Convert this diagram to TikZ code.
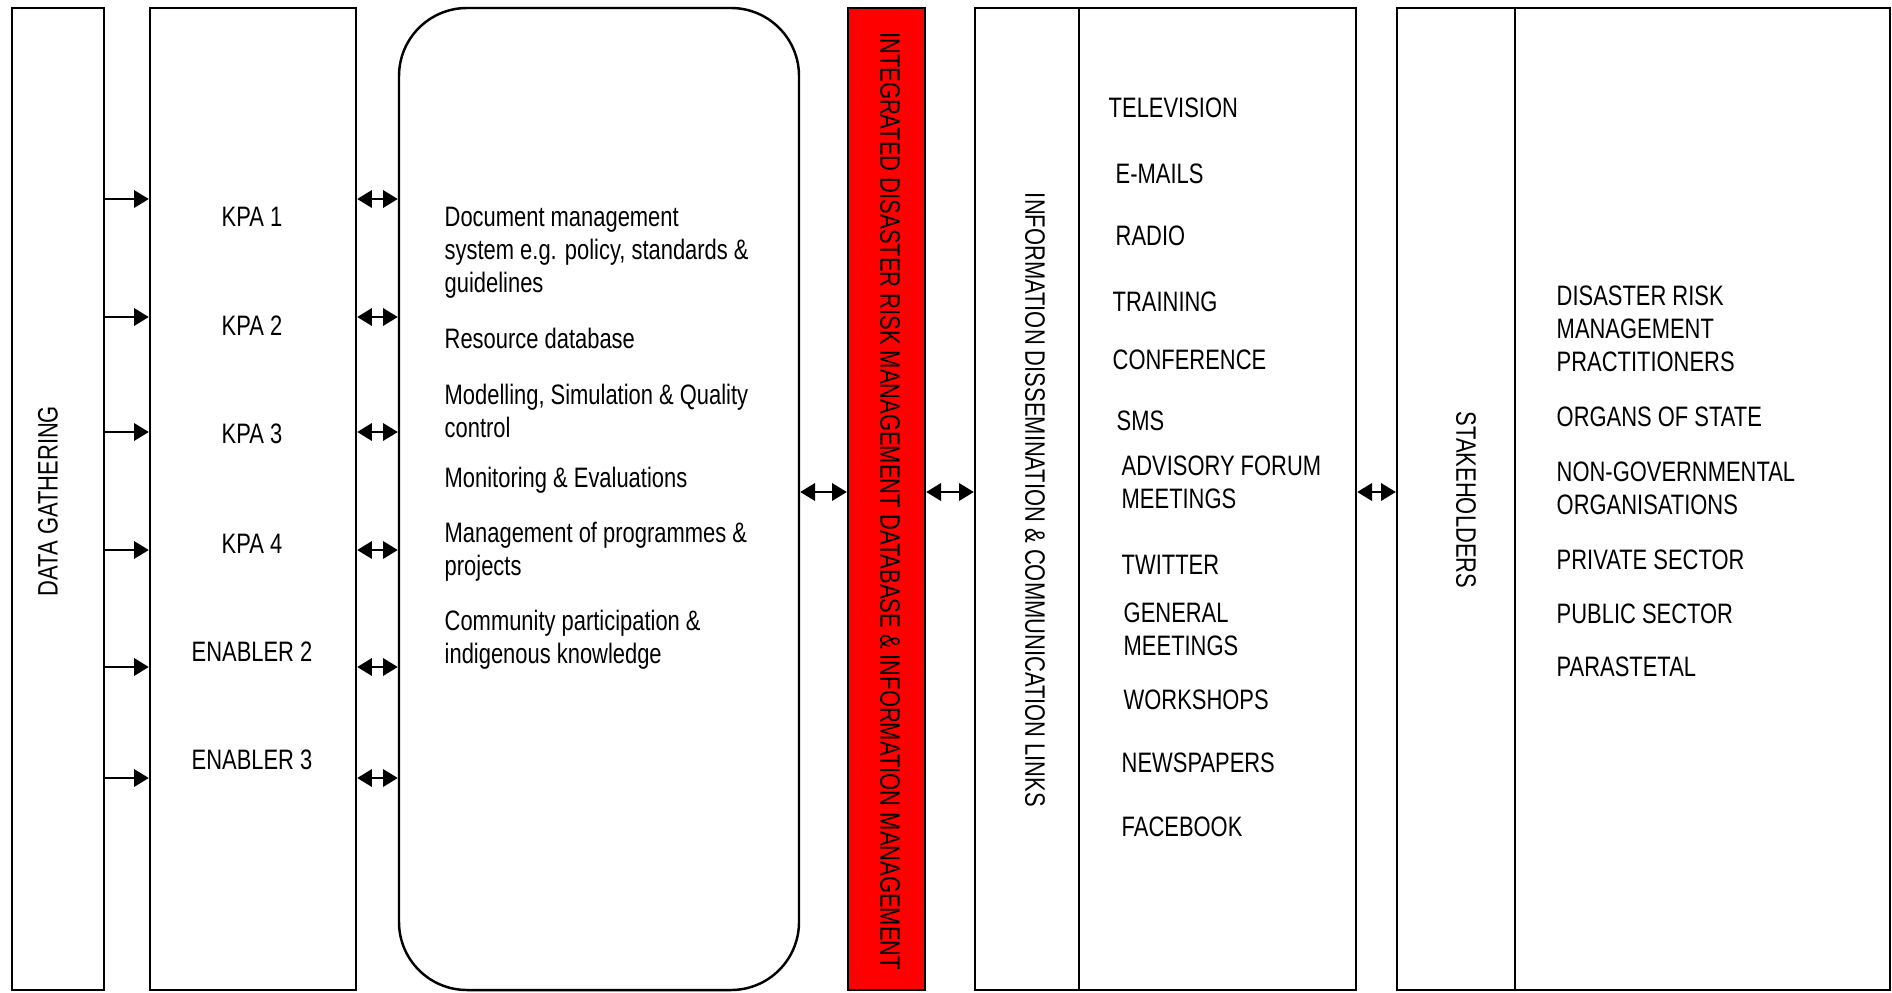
\documentclass[tikz,border=0pt]{standalone}
\usepackage{fontspec}
\setmainfont{Liberation Sans}[FakeStretch=0.78]
\usetikzlibrary{arrows.meta, positioning, calc}

\begin{document}
\begin{tikzpicture}[
  font=\fontsize{8}{9.4}\selectfont,
  panel/.style={draw=black, line width=0.7pt, inner sep=0pt, minimum height=9.82cm},
  item/.style={anchor=west, inner sep=0pt, align=left},
  feed/.style={line width=0.5pt, -{Triangle[length=4.2pt, width=5pt]}},
  link/.style={line width=0.5pt, {Triangle[length=4.2pt, width=5pt]}-{Triangle[length=4.2pt, width=5pt]}}
]
  \useasboundingbox (0,0) rectangle (18.92,9.92);

  % Columns
  \node[panel, minimum width=0.92cm] (dg)   at (0.58,4.93)   {};
  \node[panel, minimum width=2.06cm] (kpa)  at (2.53,4.93)   {};
  \node[panel, minimum width=4.00cm, rounded corners=0.68cm] (db) at (5.99,4.93) {};
  \node[panel, minimum width=0.77cm, fill=red] (irm) at (8.865,4.93) {};
  \node[panel, minimum width=1.04cm] (info) at (10.27,4.93)  {};
  \node[panel, minimum width=2.77cm] (media) at (12.175,4.93) {};
  \node[panel, minimum width=1.18cm] (stake) at (14.56,4.93) {};
  \node[panel, minimum width=3.75cm] (groups) at (17.025,4.93) {};

  % Column titles
  \node[rotate=90]  (dglabel)    at (0.48,4.91)  {DATA GATHERING};
  \node[rotate=-90] (irmlabel)   at (8.90,4.91)  {INTEGRATED DISASTER RISK MANAGEMENT DATABASE \& INFORMATION MANAGEMENT};
  \node[rotate=-90] (infolabel)  at (10.35,4.92) {INFORMATION DISSEMINATION \& COMMUNICATION LINKS};
  \node[rotate=-90] (stakelabel) at (14.66,4.92) {STAKEHOLDERS};

  % Key performance areas
  \node (k1) at (2.52,7.75) {KPA 1};
  \node (k2) at (2.52,6.66) {KPA 2};
  \node (k3) at (2.52,5.58) {KPA 3};
  \node (k4) at (2.52,4.48) {KPA 4};
  \node (e2) at (2.52,3.40) {ENABLER 2};
  \node (e3) at (2.52,2.32) {ENABLER 3};

  % Database contents
  \node[item] (doc)  at (4.44,7.39)  {Document management\\system e.g. policy, standards \&\\guidelines};
  \node[item] (res)  at (4.44,6.54)  {Resource database};
  \node[item] (mod)  at (4.44,5.815) {Modelling, Simulation \& Quality\\control};
  \node[item] (mon)  at (4.44,5.12)  {Monitoring \& Evaluations};
  \node[item] (prog) at (4.44,4.40)  {Management of programmes \&\\projects};
  \node[item] (comm) at (4.44,3.525) {Community participation \&\\indigenous knowledge};

  % Channels
  \node[item] (tv)    at (11.08,8.84) {TELEVISION};
  \node[item] (mail)  at (11.15,8.18) {E-MAILS};
  \node[item] (radio) at (11.15,7.56) {RADIO};
  \node[item] (train) at (11.12,6.90) {TRAINING};
  \node[item] (conf)  at (11.12,6.32) {CONFERENCE};
  \node[item] (sms)   at (11.16,5.71) {SMS};
  \node[item] (forum) at (11.21,5.10) {ADVISORY FORUM\\MEETINGS};
  \node[item] (tw)    at (11.21,4.27) {TWITTER};
  \node[item] (gen)   at (11.23,3.63) {GENERAL\\MEETINGS};
  \node[item] (work)  at (11.23,2.92) {WORKSHOPS};
  \node[item] (news)  at (11.21,2.29) {NEWSPAPERS};
  \node[item] (fb)    at (11.21,1.65) {FACEBOOK};

  % Stakeholder groups
  \node[item] (drm)  at (15.56,6.63) {DISASTER RISK\\MANAGEMENT\\PRACTITIONERS};
  \node[item] (org)  at (15.56,5.75) {ORGANS OF STATE};
  \node[item] (ngo)  at (15.56,5.04) {NON-GOVERNMENTAL\\ORGANISATIONS};
  \node[item] (priv) at (15.56,4.32) {PRIVATE SECTOR};
  \node[item] (pub)  at (15.56,3.78) {PUBLIC SECTOR};
  \node[item] (para) at (15.56,3.25) {PARASTETAL};

  % Arrows
  \foreach \y [count=\i] in {7.93, 6.75, 5.60, 4.42, 3.25, 2.14} {
    \coordinate (lv\i) at (0,\y);
    \draw[feed] (dg.east |- lv\i) -- (kpa.west |- lv\i);
    \draw[link] (kpa.east |- lv\i) -- (db.west |- lv\i);
  }
  \coordinate (mid) at (0,5.00);
  \draw[link] (db.east |- mid) -- (irm.west |- mid);
  \draw[link] (irm.east |- mid) -- (info.west |- mid);
  \draw[link] (media.east |- mid) -- (stake.west |- mid);
\end{tikzpicture}
\end{document}
